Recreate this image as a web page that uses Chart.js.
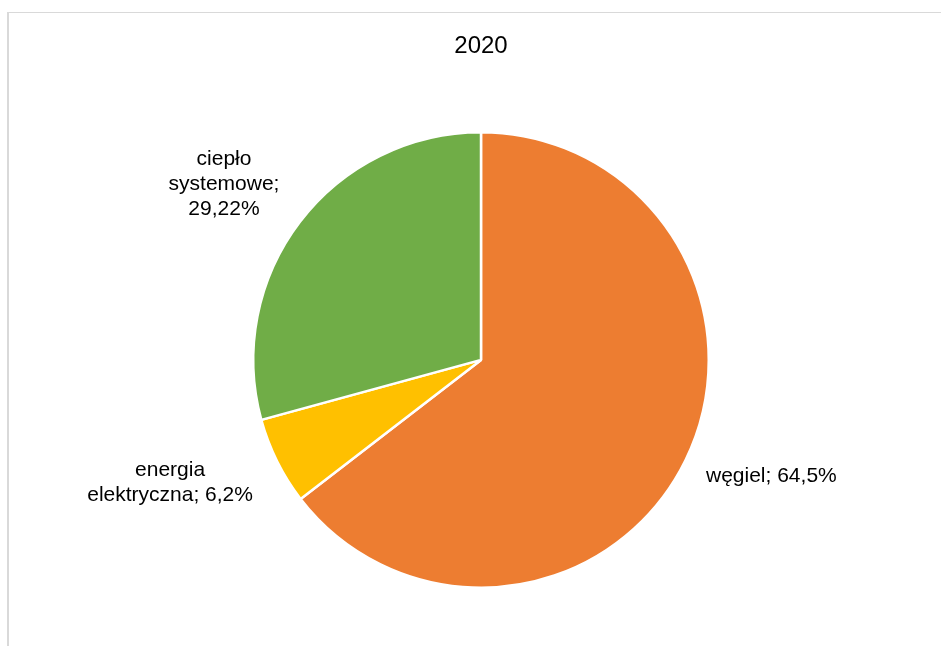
<!DOCTYPE html>
<html>
<head>
<meta charset="utf-8">
<script src="https://cdn.jsdelivr.net/npm/chart.js@4/dist/chart.umd.min.js"></script>
<style>
  html, body { margin: 0; padding: 0; background: #ffffff; }
  #wrap { position: relative; width: 941px; height: 646px; }
</style>
</head>
<body>
<div id="wrap"><canvas id="c" width="941" height="646"></canvas></div>
<script>
// ---- data ----
const chartTitle = '2020';
const categories = ['węgiel', 'energia elektryczna', 'ciepło systemowe'];
const shares = [64.5, 6.2, 29.22];
const sliceColors = ['#ED7D31', '#FFC000', '#70AD47'];

const FONT = '"Liberation Sans", Arial, Helvetica, sans-serif';

// label placement relative to outer mid-point of each slice
const labelStyle = [
  { dx: 86, dy: 16, wrap: 200 },
  { dx: -107, dy: 21, wrap: 180 },
  { dx: -76, dy: -37, wrap: 120 }
];

function fmt(v) { return String(v).replace('.', ',') + '%'; }

function wrapText(ctx, text, maxW) {
  const words = text.split(' ');
  const lines = [];
  let cur = '';
  for (const w of words) {
    const t = cur ? cur + ' ' + w : w;
    if (cur && ctx.measureText(t).width > maxW) { lines.push(cur); cur = w; }
    else cur = t;
  }
  if (cur) lines.push(cur);
  return lines;
}

const framePlugin = {
  id: 'frame',
  beforeDraw(chart) {
    const ctx = chart.ctx;
    ctx.save();
    ctx.fillStyle = '#ffffff';
    ctx.fillRect(0, 0, chart.width, chart.height);
    ctx.fillStyle = '#d9d9d9';
    ctx.fillRect(7, 12, 2, chart.height);
    ctx.fillRect(7, 12, chart.width, 1);
    ctx.restore();
  }
};

const labelPlugin = {
  id: 'sliceLabels',
  afterDatasetsDraw(chart) {
    const ctx = chart.ctx;
    const meta = chart.getDatasetMeta(0);
    ctx.save();
    ctx.font = '21px ' + FONT;
    ctx.fillStyle = '#000000';
    ctx.textAlign = 'center';
    ctx.textBaseline = 'middle';
    const lh = 25;
    meta.data.forEach((arc, i) => {
      const p = arc.getProps(['x', 'y', 'startAngle', 'endAngle', 'outerRadius'], true);
      const mid = (p.startAngle + p.endAngle) / 2;
      const ax = p.x + Math.cos(mid) * p.outerRadius;
      const ay = p.y + Math.sin(mid) * p.outerRadius;
      const st = labelStyle[i];
      const text = categories[i] + '; ' + fmt(shares[i]);
      const lines = wrapText(ctx, text, st.wrap);
      const cx = ax + st.dx;
      const cy = ay + st.dy;
      const y0 = cy - (lines.length - 1) * lh / 2;
      lines.forEach((ln, k) => ctx.fillText(ln, cx, y0 + k * lh));
    });
    ctx.restore();
  }
};

new Chart(document.getElementById('c'), {
  type: 'pie',
  data: {
    labels: categories,
    datasets: [{
      data: shares,
      backgroundColor: sliceColors,
      borderColor: '#ffffff',
      borderWidth: 2.5,
      hoverOffset: 0
    }]
  },
  options: {
    responsive: false,
    animation: false,
    devicePixelRatio: 1,
    layout: { padding: { top: 0, bottom: 57, left: 252, right: 231 } },
    plugins: {
      legend: { display: false },
      tooltip: { enabled: false },
      title: {
        display: true,
        text: chartTitle,
        color: '#000000',
        font: { family: FONT, size: 24, weight: 'normal' },
        padding: { top: 32, bottom: 70 }
      }
    }
  },
  plugins: [framePlugin, labelPlugin]
});
</script>
</body>
</html>
